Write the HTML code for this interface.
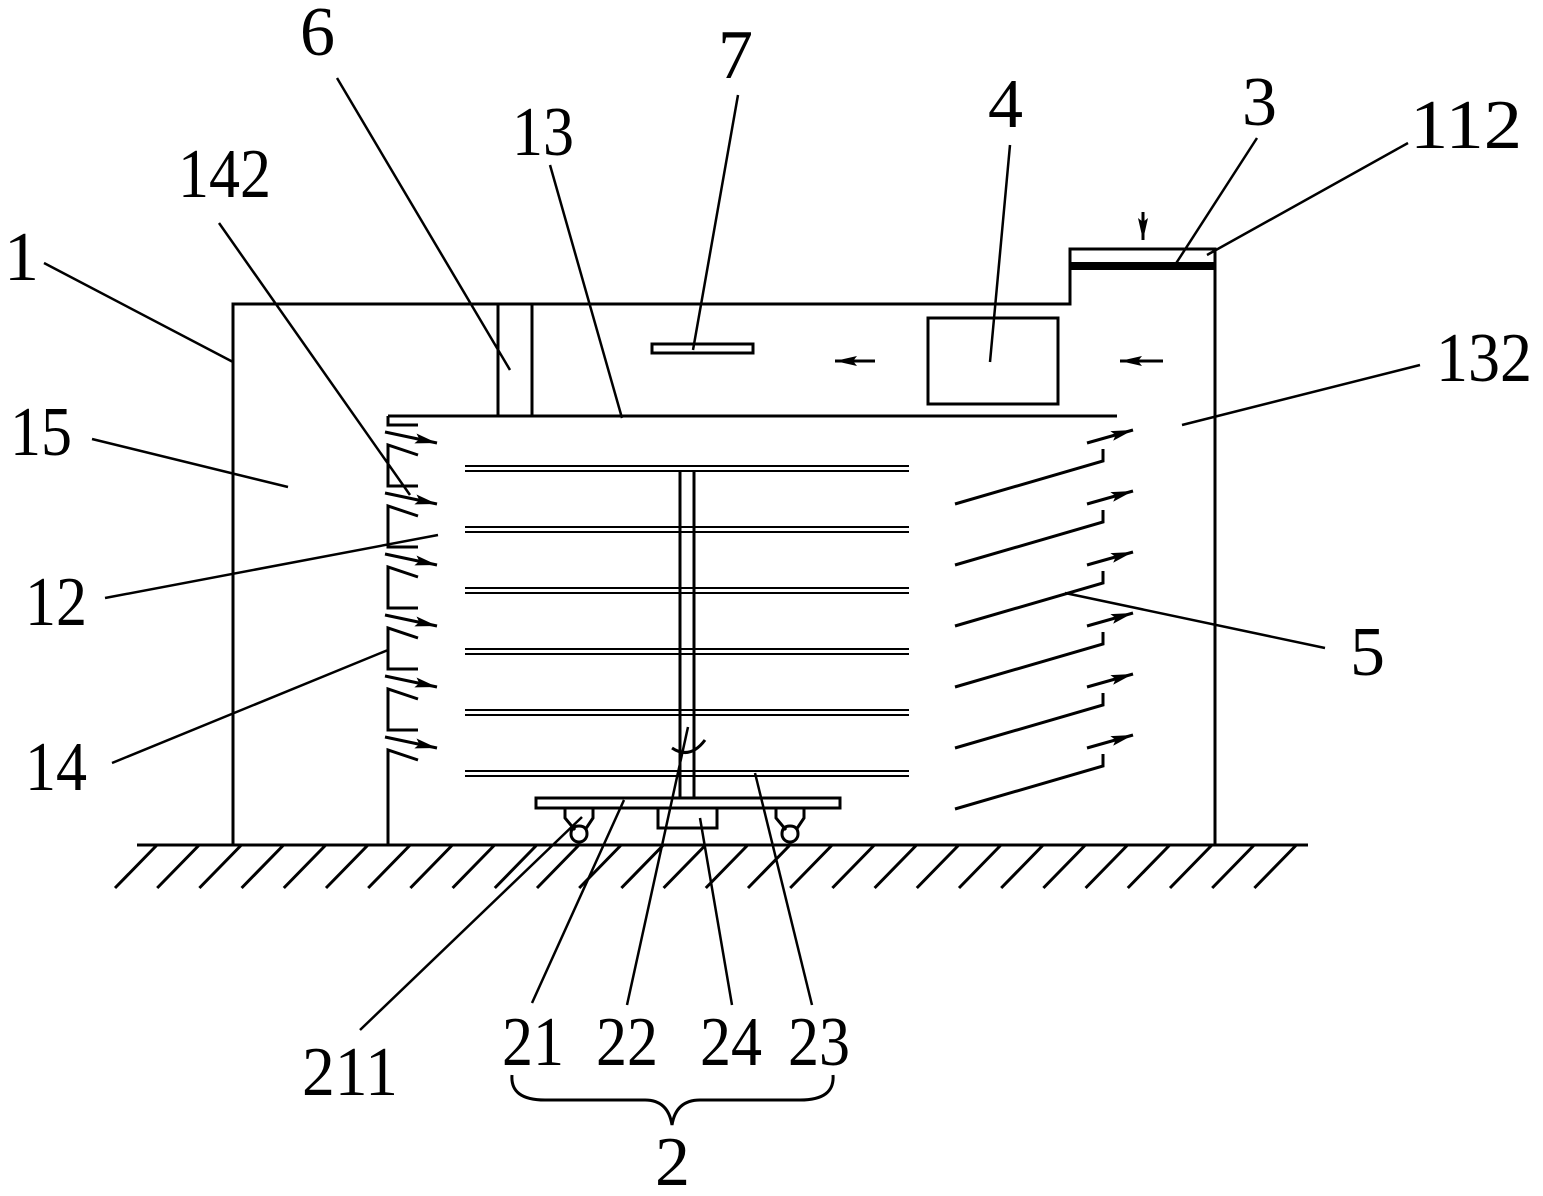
<!DOCTYPE html>
<html><head><meta charset="utf-8"><style>
html,body{margin:0;padding:0;background:#fff}
svg{display:block}
text{font-family:"Liberation Serif",serif;font-size:70px;fill:#000}
</style></head><body>
<svg id="s" width="1543" height="1196" viewBox="0 0 1543 1196" xmlns="http://www.w3.org/2000/svg" stroke="#000" stroke-width="3" fill="none">
<defs>
<marker id="ah2" markerWidth="22" markerHeight="10" refX="22" refY="5" orient="auto" markerUnits="userSpaceOnUse"><path d="M0,0 L22,5 L0,10 L4,5 z" fill="#000" stroke="none"/></marker></defs>
<path d="M233,845 V304 H1070 V249 H1215 V845"/>
<rect x="1070" y="262" width="145" height="8" fill="#000" stroke="none"/>
<line x1="1143" y1="212" x2="1143" y2="240" marker-end="url(#ah2)"/>
<line x1="137" y1="845" x2="1308" y2="845"/>
<g id="hatch"></g>
<line x1="388" y1="416" x2="1117" y2="416"/>
<path d="M388,416 V425 H418"/>
<line x1="498" y1="304" x2="498" y2="416"/><line x1="532" y1="304" x2="532" y2="416"/>
<rect x="652" y="344" width="101" height="9"/>
<rect x="928" y="318" width="130" height="86"/>
<line x1="875" y1="361" x2="835" y2="361" marker-end="url(#ah2)"/>
<line x1="1163" y1="361" x2="1120" y2="361" marker-end="url(#ah2)"/>
<g id="rep"></g>
<line x1="680" y1="470" x2="680" y2="798"/><line x1="694" y1="470" x2="694" y2="798"/>
<rect x="536" y="798" width="304" height="10"/>
<rect x="658" y="808" width="59" height="20"/>
<path d="M672,748 Q690,760 705,740"/>
<path d="M565,808 V818 L575,830 M593,808 V818 L585,830"/>
<path d="M571,834 A8,8 0 1 0 587,834 Q587,826 579,826 Q571,826 571,834"/>
<path d="M776,808 V818 L786,830 M804,808 V818 L796,830"/>
<path d="M782,834 A8,8 0 1 0 798,834 Q798,826 790,826 Q782,826 782,834"/>
<g stroke-width="2.5">
<line x1="337" y1="78" x2="510" y2="370"/>
<line x1="738" y1="95" x2="693" y2="350"/>
<line x1="550" y1="165" x2="622" y2="418"/>
<line x1="1010" y1="145" x2="990" y2="362"/>
<line x1="1257" y1="138" x2="1175" y2="265"/>
<line x1="1408" y1="143" x2="1207" y2="255"/>
<line x1="219" y1="223" x2="410" y2="495"/>
<line x1="44" y1="263" x2="233" y2="362"/>
<line x1="92" y1="439" x2="288" y2="487"/>
<line x1="1420" y1="365" x2="1182" y2="425"/>
<line x1="105" y1="598" x2="438" y2="535"/>
<line x1="1325" y1="648" x2="1065" y2="593"/>
<line x1="112" y1="763" x2="388" y2="650"/>
<line x1="360" y1="1030" x2="582" y2="817"/>
<line x1="532" y1="1003" x2="624" y2="800"/>
<line x1="627" y1="1005" x2="688" y2="727"/>
<line x1="732" y1="1005" x2="700" y2="818"/>
<line x1="812" y1="1005" x2="755" y2="773"/>
</g>
<path d="M512,1075 Q510,1100 545,1100 H645 Q668,1100 672,1125 Q676,1100 700,1100 H800 Q835,1100 833,1075"/>
<g stroke="none">
<text x="300" y="55">6</text>
<text x="718" y="78">7</text>
<text x="512" y="155" textLength="62" lengthAdjust="spacingAndGlyphs">13</text>
<text x="988" y="127">4</text>
<text x="1242" y="125">3</text>
<text x="1410" y="148" textLength="112" lengthAdjust="spacingAndGlyphs">112</text>
<text x="178" y="197" textLength="93" lengthAdjust="spacingAndGlyphs">142</text>
<text x="4" y="280">1</text>
<text x="10" y="455" textLength="62" lengthAdjust="spacingAndGlyphs">15</text>
<text x="1436" y="381" textLength="96" lengthAdjust="spacingAndGlyphs">132</text>
<text x="25" y="625" textLength="62" lengthAdjust="spacingAndGlyphs">12</text>
<text x="1350" y="675">5</text>
<text x="25" y="790" textLength="62" lengthAdjust="spacingAndGlyphs">14</text>
<text x="302" y="1095" textLength="96" lengthAdjust="spacingAndGlyphs">211</text>
<text x="502" y="1065" textLength="62" lengthAdjust="spacingAndGlyphs">21</text>
<text x="596" y="1065" textLength="62" lengthAdjust="spacingAndGlyphs">22</text>
<text x="700" y="1065" textLength="62" lengthAdjust="spacingAndGlyphs">24</text>
<text x="788" y="1065" textLength="62" lengthAdjust="spacingAndGlyphs">23</text>
<text x="655" y="1185">2</text>
</g>
</svg>
<script>
var NS="http://www.w3.org/2000/svg";
function el(p,t,a){var e=document.createElementNS(NS,t);for(var k in a)e.setAttribute(k,a[k]);p.appendChild(e);return e;}
var h=document.getElementById('hatch');
for(var x=115;x<1290;x+=42.2){el(h,'line',{x1:x,y1:888,x2:x+42,y2:845});}
var r=document.getElementById('rep');
var shelves=[466,527,588,649,710,771];
shelves.forEach(function(y){el(r,'line',{x1:465,y1:y,x2:909,y2:y,'stroke-width':2});el(r,'line',{x1:465,y1:y+5,x2:909,y2:y+5,'stroke-width':2});});
for(var i=0;i<6;i++){
 var o=i*61;
 el(r,'line',{x1:385,y1:432+o,x2:437,y2:443+o,'marker-end':'url(#ah2)'});
 var yb=(i==5)?845:486+o;
 el(r,'path',{d:'M418,'+(455+o)+' L388,'+(445+o)+' V'+yb+(i<5?' H418':'')});
 el(r,'path',{d:'M955,'+(504+o)+' L1103,'+(461+o)+' V'+(449+o)});
 el(r,'line',{x1:1087,y1:443+o,x2:1133,y2:430+o,'marker-end':'url(#ah2)'});
}
</script>
</body></html>
